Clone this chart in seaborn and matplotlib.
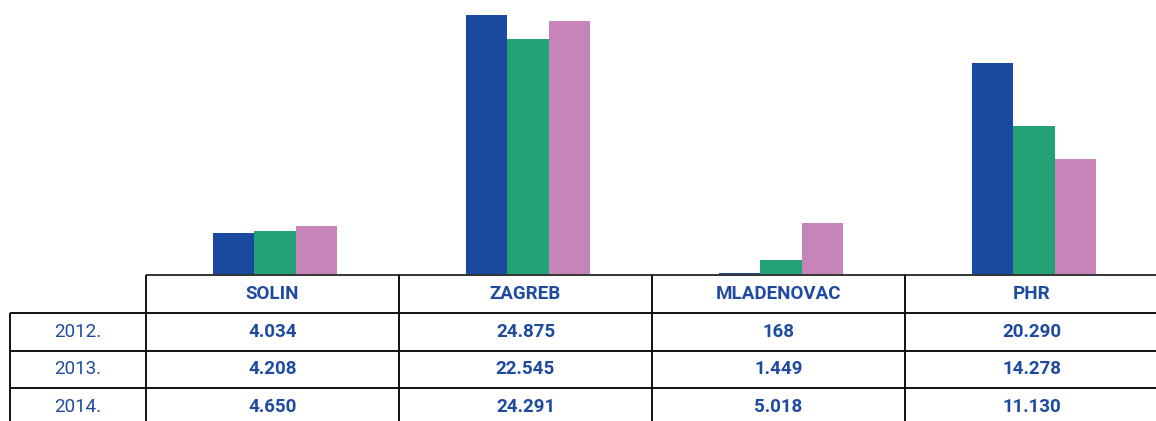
import matplotlib
matplotlib.use("Agg")
import matplotlib.pyplot as plt
import matplotlib.transforms as mtransforms
import seaborn as sns
import pandas as pd

# Data
cities = ["SOLIN", "ZAGREB", "MLADENOVAC", "PHR"]
years = ["2012.", "2013.", "2014."]
values_2012 = [4034, 24875, 168, 20290]
values_2013 = [4208, 22545, 1449, 14278]
values_2014 = [4650, 24291, 5018, 11130]
series = {"2012.": values_2012, "2013.": values_2013, "2014.": values_2014}
colors = ["#1a4aa0", "#22a276", "#c784b8"]
text_color = "#1e4ba0"


def fmt(v):
    # thousands separator with a dot
    return f"{v:,}".replace(",", ".")


df = pd.DataFrame(
    [(c, y, series[y][i]) for y in years for i, c in enumerate(cities)],
    columns=["city", "year", "value"],
)

sns.set_theme(style="white")
plt.rcParams["font.family"] = ["Roboto", "DejaVu Sans"]

W, H = 1156, 421
fig = plt.figure(figsize=(W / 100, H / 100), dpi=100)

# bar area and table area (pixel layout converted to figure fractions)
ax = fig.add_axes([146 / W, (H - 275) / H, 1012 / W, 275 / H])
ax_tab = fig.add_axes([146 / W, -5 / H, 1012 / W, 151 / H])

sns.barplot(
    data=df, x="city", y="value", hue="year", order=cities, hue_order=years,
    palette=colors, width=0.49, gap=0, linewidth=0, saturation=1,
    legend=False, ax=ax,
)
ax.set_xlim(-0.51, len(cities) - 0.51)
ax.set_ylim(0, 26300)
ax.set_axis_off()

# table
ax_tab.set_xlim(-0.5, len(cities) - 0.5)
ax_tab.set_ylim(0, 1)
ax_tab.set_axis_off()
trans = mtransforms.blended_transform_factory(ax_tab.transData, ax_tab.transAxes)

n_rows = len(years) + 1
row_h = 1.0 / n_rows
label_col = 0.5375  # width of the year-label column in category units
left_edge = -0.5 - label_col
right_edge = len(cities) - 0.5
lw = 1.4
fs = 13.5

# header top line (also the bar baseline)
ax_tab.plot([-0.5, right_edge], [1, 1], color="#333333", lw=lw,
            transform=trans, clip_on=False, solid_capstyle="butt")
# row separators
for r in range(1, n_rows):
    yv = 1 - r * row_h
    ax_tab.plot([left_edge, right_edge], [yv, yv], color="#111111", lw=lw,
                transform=trans, clip_on=False, solid_capstyle="butt")
# vertical lines between city columns
for k in range(len(cities) + 1):
    xv = -0.5 + k
    ax_tab.plot([xv, xv], [0, 1], color="#111111", lw=lw,
                transform=trans, clip_on=False, solid_capstyle="butt")
# left border of the year column
ax_tab.plot([left_edge, left_edge], [0, 1 - row_h], color="#111111", lw=lw,
            transform=trans, clip_on=False, solid_capstyle="butt")

# header labels
for i, c in enumerate(cities):
    ax_tab.text(i, 1 - row_h / 2, c, transform=trans, ha="center", va="center",
                fontsize=fs, fontweight="bold", color=text_color)

# rows
for r, y in enumerate(years):
    yc = 1 - (r + 1.5) * row_h
    ax_tab.text(-0.5 - label_col / 2, yc, y, transform=trans, ha="center",
                va="center", fontsize=fs, fontweight="normal",
                color=text_color, clip_on=False)
    for i, v in enumerate(series[y]):
        ax_tab.text(i, yc, fmt(v), transform=trans, ha="center", va="center",
                    fontsize=fs, fontweight="bold", color=text_color)

fig.savefig("out.png", dpi=100, facecolor="white")
